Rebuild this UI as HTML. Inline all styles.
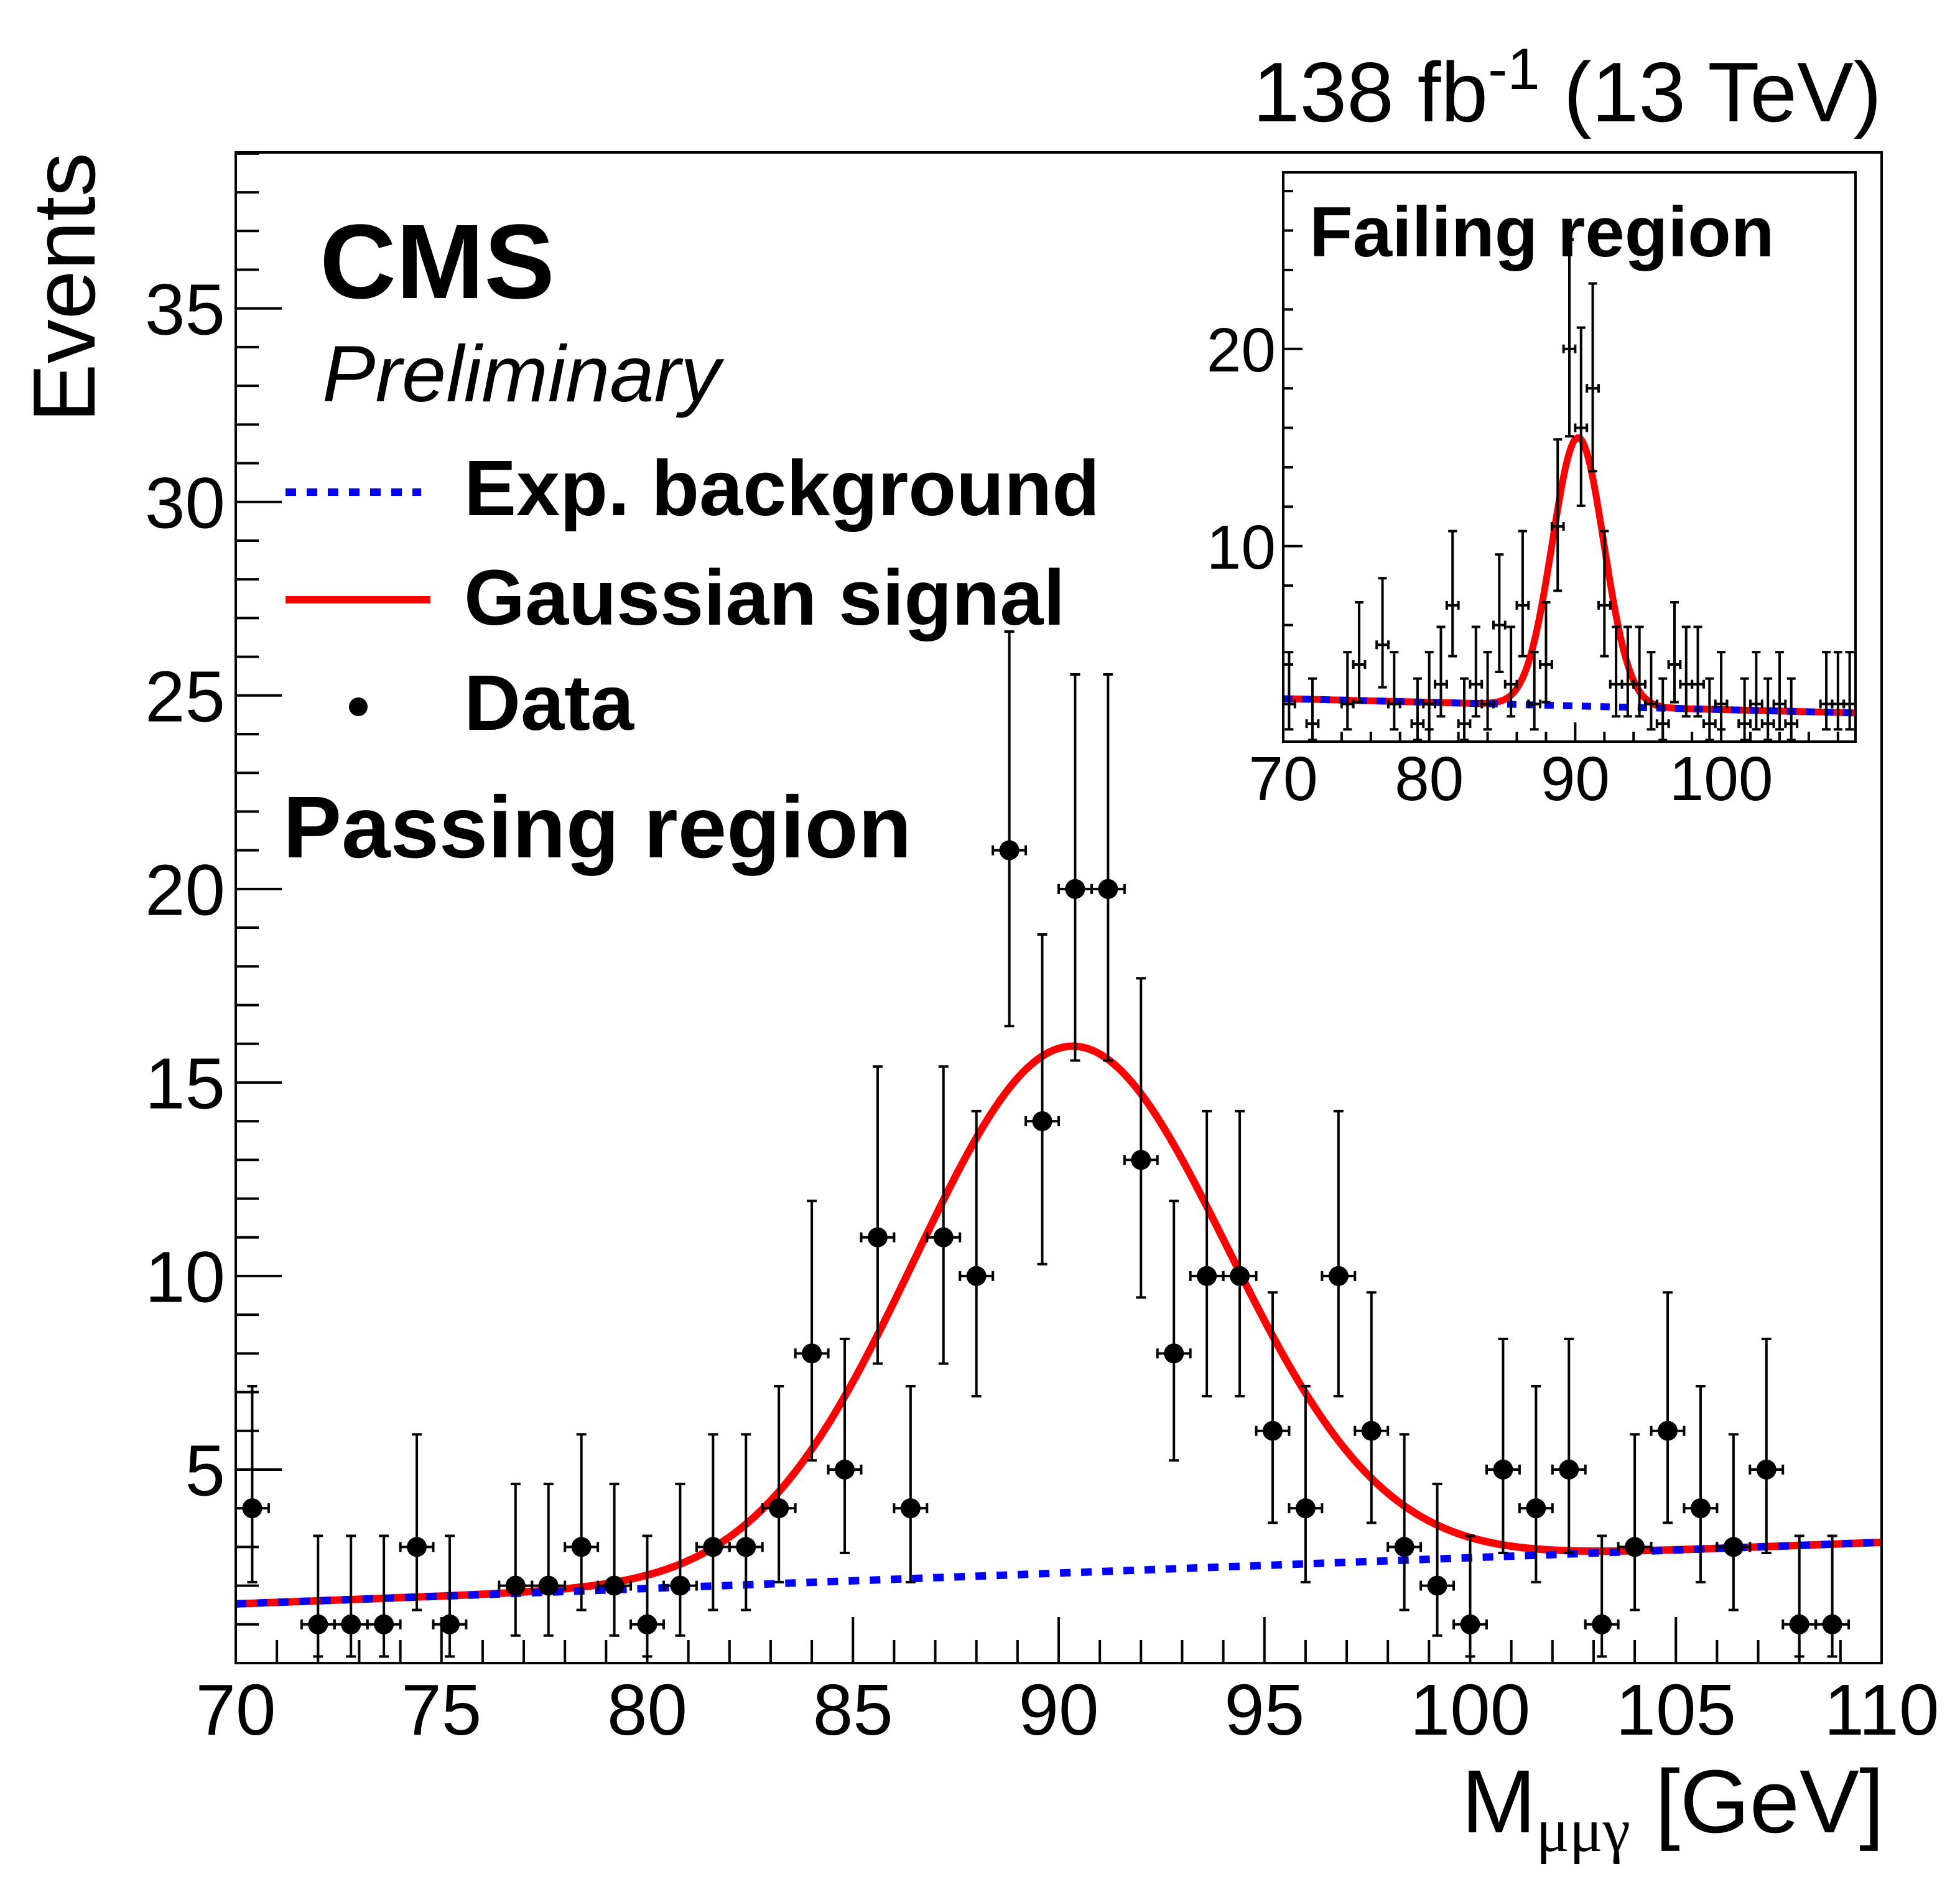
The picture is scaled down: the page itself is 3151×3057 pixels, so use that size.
<!DOCTYPE html>
<html><head><meta charset="utf-8"><style>
html,body{margin:0;padding:0;background:#fff;}
svg{display:block;}
text{font-family:"Liberation Sans",Arial,sans-serif;fill:#000;}
</style></head><body>
<svg id="chart" xmlns="http://www.w3.org/2000/svg" width="3151" height="3057" viewBox="0 0 3151 3057">
<rect x="0" y="0" width="3151" height="3057" fill="#fff"/>
<g id="main-plot"></g>
<g id="inset-plot"></g>
<g id="labels">
<text x="3025" y="195" font-size="136" text-anchor="end">138 fb<tspan dy="-52" font-size="94">-1</tspan><tspan dy="52"> (13 TeV)</tspan></text>
<text transform="translate(152,245) rotate(-90)" font-size="142" text-anchor="end">Events</text>
<text x="3029" y="2945" font-size="144" text-anchor="end">M<tspan font-family="Liberation Serif, serif" font-size="100" dy="30">μμγ</tspan><tspan dy="-30"> [GeV]</tspan></text>
<text x="514" y="479" font-size="170" font-weight="bold">CMS</text>
<text x="518" y="645" font-size="128" font-style="italic">Preliminary</text>
<text x="746" y="828" font-size="126" font-weight="bold">Exp. background</text>
<text x="746" y="1004" font-size="126" font-weight="bold">Gaussian signal</text>
<text x="746" y="1173" font-size="126" font-weight="bold">Data</text>
<line x1="459" y1="791" x2="677" y2="791" stroke="#0000ff" stroke-width="12" stroke-dasharray="17,17"/>
<line x1="459" y1="964" x2="692" y2="964" stroke="#ff0000" stroke-width="12"/>
<circle cx="576" cy="1136" r="15" fill="#000"/>
<text x="455" y="1378" font-size="141" font-weight="bold">Passing region</text>
</g>
</svg>
<script>
// ---------- data ----------
const binStart = 70.0;
const binWidth = 0.8;
const passCounts = [4,0,1,1,1,3,1,0,2,2,3,2,1,2,3,3,4,8,5,11,4,11,10,21,14,20,20,13,8,10,10,6,4,10,6,3,2,1,5,4,5,1,3,6,4,3,5,1,1,0];
const failCounts = [2,0,1,0,0,2,4,0,5,2,0,1,2,3,7,1,3,2,6,3,7,2,4,11,20,16,18,7,3,3,3,2,1,4,3,3,1,2,0,1,2,1,2,1,0,0,2,2,2];
const passBkg = [1.53, 3.12];      // background value at 70 and 110 GeV
const passSig = [13.6, 90.3, 3.8]; // amplitude, mean, sigma
const failBkg = [2.27, 1.53];      // background at 70 and 110 GeV
const failSig = [13.6, 90.2, 1.77];
const mainXTicks = [70,75,80,85,90,95,100,105,110];
const mainYTicks = [5,10,15,20,25,30,35];
const insetXTicks = [70,80,90,100];
const insetYTicks = [10,20];

const NS = "http://www.w3.org/2000/svg";
function mk(tag, attrs, parent){
  const e = document.createElementNS(NS, tag);
  for (const k in attrs) e.setAttribute(k, attrs[k]);
  parent.appendChild(e);
  return e;
}
function garwood(n){
  const lo = n===0 ? 0 : n*Math.pow(1-1/(9*n)-1/(3*Math.sqrt(n)),3);
  const m = n+1;
  const hi = m*Math.pow(1-1/(9*m)+1/(3*Math.sqrt(m)),3);
  return [lo, hi];
}
function model(x, bkg, sig){
  const b = bkg[0] + (bkg[1]-bkg[0])*(x-70)/40;
  return b + sig[0]*Math.exp(-0.5*Math.pow((x-sig[1])/sig[2],2));
}
function bkgAt(x, bkg){ return bkg[0] + (bkg[1]-bkg[0])*(x-70)/40; }

function drawPanel(g, cfg){
  const sx = v => cfg.x0 + (v-cfg.xmin)/(cfg.xmax-cfg.xmin)*(cfg.x1-cfg.x0);
  const sy = v => cfg.y1 - (v-cfg.ymin)/(cfg.ymax-cfg.ymin)*(cfg.y1-cfg.y0);
  const clipId = cfg.id + "-clip";
  const defs = mk("defs", {}, g);
  const cp = mk("clipPath", {id: clipId}, defs);
  mk("rect", {x: cfg.x0, y: cfg.y0, width: cfg.x1-cfg.x0, height: cfg.y1-cfg.y0}, cp);
  for (let v = Math.ceil(cfg.xmin/cfg.xMinor)*cfg.xMinor; v <= cfg.xmax+1e-6; v += cfg.xMinor){
    const major = Math.abs(v/cfg.xMajor - Math.round(v/cfg.xMajor)) < 1e-6;
    const t = mk("line", {x1: sx(v), x2: sx(v), y1: cfg.y1, y2: cfg.y1 - (major?cfg.tMaj:cfg.tMin), stroke:"#000", "stroke-width": cfg.tw}, g);
    
    
  }
  for (let v = Math.ceil(cfg.ymin/cfg.yMinor)*cfg.yMinor; v <= cfg.ymax+1e-6; v += cfg.yMinor){
    if (v < cfg.ymin + 1e-6) continue;
    const major = Math.abs(v/cfg.yMajor - Math.round(v/cfg.yMajor)) < 1e-6;
    const t = mk("line", {x1: cfg.x0, x2: cfg.x0 + (major?cfg.tMaj:cfg.tMin), y1: sy(v), y2: sy(v), stroke:"#000", "stroke-width": cfg.tw}, g);
    
    
  }
  cfg.xTicks.forEach(v => {
    const t = mk("text", {x: sx(v), y: cfg.y1 + cfg.xLabDy, "font-size": cfg.fs, "text-anchor": "middle"}, g);
    t.textContent = v;
    
    
  });
  cfg.yTicks.forEach(v => {
    const t = mk("text", {x: cfg.x0 - cfg.yLabDx, y: sy(v) + cfg.fs*0.36, "font-size": cfg.fs, "text-anchor": "end"}, g);
    t.textContent = v;
    
    
  });
  const pg = mk("g", {"clip-path": "url(#"+clipId+")"}, g);
  let dTot = "", dB = "";
  for (let i = 0; i <= 800; i++){
    const x = cfg.xmin + (cfg.xmax-cfg.xmin)*i/800;
    dTot += (i?"L":"M") + sx(x).toFixed(2) + "," + sy(model(x, cfg.bkg, cfg.sig)).toFixed(2);
  }
  dB = "M" + sx(cfg.xmin) + "," + sy(bkgAt(cfg.xmin, cfg.bkg)) + "L" + sx(cfg.xmax) + "," + sy(bkgAt(cfg.xmax, cfg.bkg));
  const tot = mk("path", {d: dTot, fill: "none", stroke: "#ff0000", "stroke-width": cfg.lw}, pg);
  
  
  const bl = mk("path", {d: dB, fill: "none", stroke: "#0000ff", "stroke-width": cfg.lw, "stroke-dasharray": cfg.dash}, pg);
  
  
  cfg.counts.forEach((n, i) => {
    if (n <= 0) return;
    const xc = binStart + binWidth*(i+0.5);
    const [lo, hi] = garwood(n);
    const px = sx(xc), py = sy(n);
    const eg = mk("g", {}, pg);
    
    
    const st = {stroke:"#000", "stroke-width": cfg.ew};
    mk("line", Object.assign({x1: px, x2: px, y1: sy(hi), y2: sy(lo)}, st), eg);
    mk("line", Object.assign({x1: px-cfg.cap, x2: px+cfg.cap, y1: sy(hi), y2: sy(hi)}, st), eg);
    mk("line", Object.assign({x1: px-cfg.cap, x2: px+cfg.cap, y1: sy(lo), y2: sy(lo)}, st), eg);
    const xl = sx(xc - binWidth/2), xr = sx(xc + binWidth/2);
    mk("line", Object.assign({x1: xl, x2: xr, y1: py, y2: py}, st), eg);
    mk("line", Object.assign({x1: xl, x2: xl, y1: py-cfg.cap, y2: py+cfg.cap}, st), eg);
    mk("line", Object.assign({x1: xr, x2: xr, y1: py-cfg.cap, y2: py+cfg.cap}, st), eg);
    if (cfg.marker) mk("circle", {cx: px, cy: py, r: cfg.marker, fill: "#000"}, eg);
  });
  const fr = mk("rect", {x: cfg.x0, y: cfg.y0, width: cfg.x1-cfg.x0, height: cfg.y1-cfg.y0, fill: "none", stroke: "#000", "stroke-width": cfg.fw}, g);
  
  
}

drawPanel(document.getElementById("main-plot"), {
  id: "main", x0: 379, x1: 3025, y0: 245, y1: 2673,
  xmin: 70, xmax: 110, ymin: 0, ymax: 39.03,
  xMinor: 1, xMajor: 5, yMinor: 1, yMajor: 5, tMaj: 74, tMin: 37, tw: 4,
  xTicks: mainXTicks, yTicks: mainYTicks, fs: 116, xLabDy: 115, yLabDx: 17,
  bkg: passBkg, sig: passSig, counts: passCounts,
  lw: 12, dash: "17,17", ew: 4, cap: 8, marker: 16, fw: 4
});
const inset = document.getElementById("inset-plot");
mk("rect", {x: 2063, y: 277, width: 920, height: 915, fill: "#fff"}, inset);
drawPanel(inset, {
  id: "inset", x0: 2063, x1: 2983, y0: 277, y1: 1192,
  xmin: 70, xmax: 109.2, ymin: 0.09, ymax: 28.95,
  xMinor: 2, xMajor: 10, yMinor: 2, yMajor: 10, tMaj: 31, tMin: 16, tw: 4,
  xTicks: insetXTicks, yTicks: insetYTicks, fs: 100, xLabDy: 94, yLabDx: 12,
  bkg: failBkg, sig: failSig, counts: failCounts,
  lw: 11, dash: "15,15", ew: 4, cap: 7, marker: 0, fw: 4
});
const ft = mk("text", {x: 2105, y: 412, "font-size": 114, "font-weight": "bold"}, inset);
ft.textContent = "Failing region";


</script>
</body></html>
